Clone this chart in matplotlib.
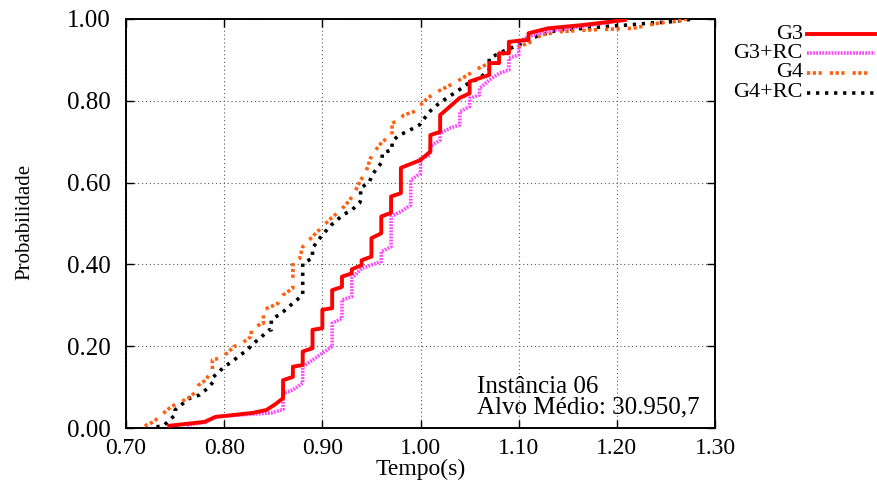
import matplotlib
matplotlib.use("Agg")
import matplotlib.pyplot as plt
from matplotlib.lines import Line2D

plt.rcParams["font.family"] = ["Liberation Serif", "DejaVu Serif"]

############################################
# series: time (s) vs cumulative probability
############################################

g3_t = [0.742, 0.780, 0.791, 0.829, 0.843, 0.852, 0.860, 0.860, 0.870, 0.870,
        0.880, 0.880, 0.890, 0.890, 0.900, 0.900, 0.910, 0.910, 0.920, 0.920,
        0.930, 0.930, 0.940, 0.940, 0.950, 0.950, 0.960, 0.960, 0.970, 0.970,
        0.980, 0.980, 1.000, 1.010, 1.010, 1.020, 1.020, 1.030, 1.040, 1.050,
        1.050, 1.070, 1.070, 1.080, 1.080, 1.090, 1.090, 1.110, 1.110, 1.130,
        1.165, 1.210]
g3_p = [0.005, 0.015, 0.027, 0.037, 0.044, 0.058, 0.073, 0.117, 0.125, 0.150,
        0.154, 0.187, 0.195, 0.240, 0.244, 0.289, 0.293, 0.337, 0.345, 0.370,
        0.378, 0.388, 0.398, 0.410, 0.419, 0.464, 0.476, 0.517, 0.526, 0.566,
        0.574, 0.636, 0.655, 0.676, 0.716, 0.724, 0.765, 0.786, 0.807, 0.818,
        0.847, 0.863, 0.892, 0.892, 0.916, 0.916, 0.944, 0.949, 0.965, 0.977,
        0.985, 0.998]

g3rc_t = [0.762, 0.782, 0.792, 0.848, 0.860, 0.860, 0.870, 0.880, 0.880, 0.890,
          0.900, 0.910, 0.910, 0.920, 0.920, 0.930, 0.930, 0.940, 0.960, 0.960,
          0.970, 0.970, 0.980, 0.990, 0.990, 1.000, 1.000, 1.010, 1.010, 1.020,
          1.020, 1.030, 1.040, 1.040, 1.050, 1.050, 1.060, 1.060, 1.070, 1.080,
          1.090, 1.090, 1.100, 1.100, 1.110, 1.130, 1.210]
g3rc_p = [0.007, 0.015, 0.028, 0.037, 0.045, 0.085, 0.093, 0.110, 0.150, 0.166,
          0.183, 0.199, 0.256, 0.268, 0.313, 0.321, 0.366, 0.390, 0.407, 0.431,
          0.443, 0.517, 0.529, 0.545, 0.606, 0.623, 0.659, 0.667, 0.688, 0.704,
          0.720, 0.733, 0.741, 0.773, 0.786, 0.806, 0.814, 0.830, 0.850, 0.867,
          0.875, 0.904, 0.912, 0.944, 0.957, 0.970, 0.998]

g4_t = [0.719, 0.728, 0.736, 0.746, 0.756, 0.766, 0.771, 0.774, 0.781, 0.788,
        0.788, 0.794, 0.803, 0.810, 0.818, 0.827, 0.828, 0.838, 0.840, 0.840,
        0.848, 0.855, 0.860, 0.870, 0.870, 0.877, 0.880, 0.890, 0.900, 0.909,
        0.919, 0.928, 0.934, 0.939, 0.944, 0.949, 0.952, 0.961, 0.971, 0.971,
        0.978, 0.983, 0.993, 1.007, 1.017, 1.027, 1.037, 1.048, 1.059, 1.070,
        1.079, 1.088, 1.100, 1.113, 1.123, 1.143, 1.173, 1.216, 1.233, 1.243,
        1.257, 1.272]
g4_p = [0.005, 0.015, 0.032, 0.052, 0.064, 0.077, 0.089, 0.105, 0.117, 0.142,
        0.166, 0.170, 0.183, 0.199, 0.207, 0.223, 0.240, 0.256, 0.256, 0.289,
        0.297, 0.305, 0.325, 0.342, 0.407, 0.415, 0.443, 0.468, 0.492, 0.513,
        0.533, 0.557, 0.582, 0.606, 0.623, 0.659, 0.672, 0.700, 0.716, 0.745,
        0.753, 0.765, 0.773, 0.806, 0.822, 0.834, 0.847, 0.863, 0.879, 0.892,
        0.908, 0.920, 0.932, 0.944, 0.961, 0.969, 0.973, 0.977, 0.985, 0.990,
        0.993, 1.000]

g4rc_t = [0.731, 0.738, 0.750, 0.750, 0.758, 0.765, 0.775, 0.783, 0.789, 0.789,
          0.795, 0.800, 0.800, 0.808, 0.816, 0.824, 0.828, 0.838, 0.846, 0.848,
          0.848, 0.860, 0.870, 0.880, 0.880, 0.890, 0.890, 0.900, 0.909, 0.921,
          0.930, 0.938, 0.939, 0.939, 0.948, 0.951, 0.961, 0.961, 0.971, 0.971,
          0.978, 0.986, 0.999, 1.009, 1.019, 1.029, 1.039, 1.049, 1.060, 1.070,
          1.070, 1.077, 1.087, 1.100, 1.113, 1.123, 1.140, 1.167, 1.191, 1.211,
          1.234, 1.251, 1.279]
g4rc_p = [0.003, 0.005, 0.032, 0.044, 0.060, 0.073, 0.081, 0.097, 0.113, 0.125,
          0.138, 0.150, 0.150, 0.162, 0.178, 0.191, 0.203, 0.223, 0.240, 0.240,
          0.264, 0.284, 0.305, 0.325, 0.403, 0.415, 0.440, 0.472, 0.496, 0.521,
          0.533, 0.550, 0.557, 0.586, 0.602, 0.620, 0.651, 0.672, 0.680, 0.700,
          0.716, 0.724, 0.741, 0.773, 0.794, 0.810, 0.826, 0.843, 0.855, 0.875,
          0.904, 0.912, 0.924, 0.936, 0.953, 0.961, 0.973, 0.977, 0.982, 0.985,
          0.990, 0.992, 1.000]

labels = ["G3", "G3+RC", "G4", "G4+RC"]

x_ticks = [0.70, 0.80, 0.90, 1.00, 1.10, 1.20, 1.30]
y_ticks = [0.00, 0.20, 0.40, 0.60, 0.80, 1.00]

############################################
# styles
############################################

styles = [
    dict(color="#ff0000", lw=2.8, ls="-"),
    dict(color="#ff44ff", lw=2.6, ls=(0, (0.5, 0.35))),
    dict(color="#ff6010", lw=2.6, ls=(0, (0.9, 0.7, 0.9, 0.7, 0.9, 2.2))),
    dict(color="#000000", lw=2.6, ls=(0, (0.9, 1.6))),
]

series = [(g3_t, g3_p), (g3rc_t, g3rc_p), (g4_t, g4_p), (g4rc_t, g4rc_p)]

FS = 18

fig = plt.figure(figsize=(8.78, 4.86), dpi=100)
ax = fig.add_axes([0.1435, 0.1193, 0.6709, 0.8418])

# draw back to front so the red curve ends on top
for idx in [3, 2, 1, 0]:
    t, p = series[idx]
    ax.plot(t, p, solid_capstyle="butt", dash_capstyle="butt", **styles[idx], zorder=3 + (3 - idx))

ax.set_xlim(0.70, 1.30)
ax.set_ylim(0.0, 1.0)
ax.set_xticks(x_ticks)
ax.set_yticks(y_ticks)
ax.set_xticklabels([f"{v:.2f}" for v in x_ticks])
ax.set_yticklabels([f"{v:.2f}" for v in y_ticks])
ax.tick_params(direction="in", length=6, width=1, top=True, right=True,
               labelsize=FS)
ax.tick_params(axis="x", pad=7, labelsize=17)
ax.tick_params(axis="y", pad=11)
ax.grid(True, color="0.35", linestyle=(0, (1, 2.5)), linewidth=0.8)
for s in ax.spines.values():
    s.set_linewidth(1.4)

ax.set_xlabel("Tempo(s)", fontsize=17, labelpad=0)
ax.set_ylabel("Probabilidade", fontsize=15)
ax.yaxis.set_label_coords(34 / 878, 1 - 222 / 486, transform=fig.transFigure)

ax.text(1.058, 0.100, "Instância 06", fontsize=FS, va="center", ha="left")
ax.text(1.058, 0.050, "Alvo Médio: 30.950,7", fontsize=FS, va="center", ha="left")

# key outside the plot, labels right-aligned before the line samples
key_y = [34.3, 53.3, 72.7, 92.7]
for lab, st, ypx in zip(labels, styles, key_y):
    yf = 1 - ypx / 486
    fig.text(803 / 878, yf, lab, fontsize=16, ha="right", va="center")
    fig.add_artist(Line2D([807 / 878, 875 / 878], [yf, yf],
                          transform=fig.transFigure, dash_capstyle="butt", **st))

fig.savefig("out.png", dpi=100)
